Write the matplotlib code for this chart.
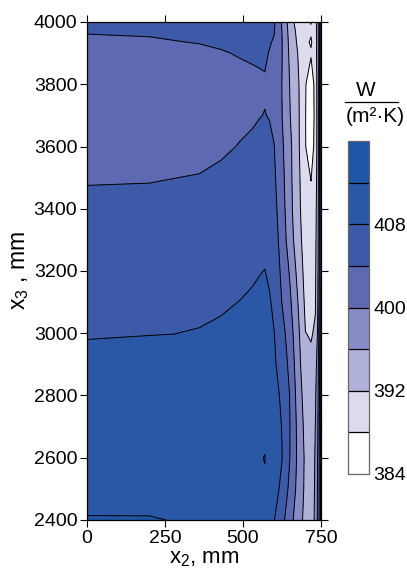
import numpy as np
import matplotlib
matplotlib.use("Agg")
import matplotlib.pyplot as plt

plt.rcParams['font.family'] = ['Liberation Sans', 'DejaVu Sans']
plt.rcParams['mathtext.fontset'] = 'custom'
plt.rcParams['mathtext.rm'] = 'Liberation Sans'
plt.rcParams['mathtext.it'] = 'Liberation Sans:italic'

# grid nodes, mm
x2_mm = [0, 200, 280, 360, 430, 490, 530, 555, 570, 585, 600, 625, 650, 675, 700,
         718, 732, 740, 745, 750]
x3_mm = [2400, 2500, 2600, 2700, 2800, 2900, 3000, 3100, 3200, 3300,
         3400, 3500, 3600, 3700, 3800, 3900, 3935, 3970, 4000]

# heat transfer coefficient, W/(m2 K), one list per x2 column (x3 from bottom to top)
alpha_x0 = [412.1, 411.4, 410.7, 410.0, 409.3, 408.6, 407.85, 407.0, 406.2, 405.4,
            404.6, 403.8, 403.0, 402.4, 402.5, 403.3, 403.7, 404.1, 404.4]
alpha_x200 = [412.1, 411.35, 410.7, 410.05, 409.35, 408.65, 407.95, 407.1, 406.3, 405.5,
              404.7, 403.85, 403.1, 402.5, 402.7, 403.45, 403.8, 404.2, 404.5]
alpha_x280 = [411.95, 411.4, 410.8, 410.15, 409.45, 408.75, 407.98, 407.2, 406.4, 405.6,
              404.8, 403.98, 403.2, 402.65, 402.8, 403.6, 403.95, 404.25, 404.55]
alpha_x360 = [411.8, 411.5, 410.9, 410.25, 409.55, 408.85, 408.15, 407.3, 406.5, 405.7,
              404.9, 404.1, 403.3, 402.8, 402.9, 403.7, 404.05, 404.3, 404.6]
alpha_x430 = [411.7, 411.55, 411.15, 410.55, 409.85, 409.15, 408.45, 407.65, 406.85, 406.05,
              405.25, 404.45, 403.65, 403.1, 403.2, 403.9, 404.2, 404.5, 404.8]
alpha_x490 = [411.6, 411.6, 411.4, 410.9, 410.2, 409.5, 408.8, 408.05, 407.2, 406.4,
              405.6, 404.8, 404.1, 403.5, 403.5, 404.1, 404.4, 404.7, 405.0]
alpha_x530 = [411.55, 411.7, 411.7, 411.25, 410.6, 409.9, 409.2, 408.4, 407.6, 406.8,
              406.0, 405.2, 404.4, 403.7, 403.65, 404.2, 404.45, 404.75, 405.0]
alpha_x555 = [411.5, 411.75, 411.9, 411.45, 410.85, 410.15, 409.45, 408.7, 407.9, 407.05,
              406.2, 405.4, 404.6, 403.95, 403.75, 404.25, 404.45, 404.75, 405.0]
alpha_x570 = [411.5, 411.8, 412.05, 411.6, 411.0, 410.3, 409.6, 408.8, 408.05, 407.2,
              406.3, 405.5, 404.7, 404.05, 403.8, 404.3, 404.5, 404.8, 405.0]
alpha_x585 = [409.5, 410.8, 411.2, 410.9, 410.4, 409.7, 409.0, 408.3, 407.5, 406.7,
              405.9, 405.2, 404.5, 403.9, 403.55, 403.9, 404.15, 404.45, 404.8]
alpha_x600 = [408.1, 409.3, 409.6, 409.4, 409.0, 408.5, 408.05, 407.3, 406.6, 405.9,
              405.2, 404.6, 404.05, 403.4, 403.1, 403.5, 403.8, 404.1, 404.5]
alpha_x625 = [405.2, 407.2, 408.1, 407.9, 407.5, 406.4, 405.4, 403.9, 403.1, 402.3,
              401.7, 401.2, 400.7, 400.05, 399.95, 400.1, 400.1, 399.95, 399.6]
alpha_x650 = [401.5, 403.0, 404.05, 404.1, 403.9, 403.0, 402.0, 400.8, 399.6, 398.0,
              397.3, 397.0, 396.9, 396.2, 395.9, 395.3, 395.0, 394.6, 394.2]
alpha_x675 = [398.1, 399.0, 399.4, 399.2, 398.6, 397.9, 397.2, 396.2, 395.0, 393.8,
              393.4, 393.3, 393.1, 393.0, 392.8, 392.05, 391.5, 391.0, 390.0]
alpha_x700 = [394.8, 395.2, 395.3, 394.8, 394.05, 392.9, 392.05, 391.2, 390.6, 390.2,
              389.6, 389.0, 388.1, 388.1, 388.2, 388.6, 388.6, 388.7, 388.5]
alpha_x718 = [394.0, 393.8, 393.5, 393.3, 393.0, 392.5, 391.8, 390.8, 390.0, 389.4,
              388.8, 387.9, 386.5, 385.9, 386.2, 388.3, 387.7, 388.3, 387.9]
alpha_x732 = [396.8, 396.6, 396.4, 396.05, 395.4, 394.2, 392.3, 391.8, 391.4, 391.0,
              390.6, 389.8, 389.0, 388.9, 389.0, 389.8, 389.5, 389.8, 390.0]
alpha_x740 = [401.0, 400.8, 400.5, 399.9, 399.4, 398.5, 396.8, 396.1, 395.5, 395.0,
              394.7, 394.4, 394.2, 394.2, 394.3, 394.5, 394.6, 394.8, 395.0]
alpha_x745 = [405.0, 404.8, 404.6, 404.3, 403.9, 403.3, 402.0, 401.3, 400.8, 400.4,
              400.2, 400.05, 399.8, 399.8, 399.9, 400.05, 400.1, 400.2, 400.5]
alpha_x750 = [409.6, 409.5, 409.4, 409.3, 409.2, 409.0, 408.6, 408.2, 407.8, 407.7,
              407.6, 407.6, 407.6, 407.6, 407.6, 407.6, 407.6, 407.6, 407.6]

levels = [384, 388, 392, 396, 400, 404, 408, 412, 416]
band_colors = ['#ffffff', '#dcdcee', '#b0b1d8', '#888cc6', '#5d69b0',
               '#3c5aa8', '#2a58a6', '#1f56a6']
cbar_ticks = [384, 392, 400, 408]
x_ticks = [0, 250, 500, 750]
y_ticks = [2400, 2600, 2800, 3000, 3200, 3400, 3600, 3800, 4000]

columns = [alpha_x0, alpha_x200, alpha_x280, alpha_x360, alpha_x430, alpha_x490,
           alpha_x530, alpha_x555, alpha_x570, alpha_x585, alpha_x600, alpha_x625,
           alpha_x650, alpha_x675, alpha_x700, alpha_x718, alpha_x732, alpha_x740,
           alpha_x745, alpha_x750]
Z = np.array(columns).T
X, Y = np.meshgrid(x2_mm, x3_mm)

fig = plt.figure(figsize=(4.07, 5.72), dpi=100)
ax = fig.add_axes([87 / 407, 1 - 520 / 572, 234 / 407, 498 / 572])

cf = ax.contourf(X, Y, Z, levels=levels, colors=band_colors)
ax.contour(X, Y, Z, levels=levels, colors='black', linewidths=0.7)

ax.set_xlim(0, 750)
ax.set_ylim(2400, 4000)
ax.set_xticks(x_ticks)
ax.set_yticks(y_ticks)
ax.tick_params(direction='out', length=5, width=0.8, labelsize=14, pad=2,
               top=True, right=True)
for sp in ax.spines.values():
    sp.set_linewidth(0.9)

ax.set_xlabel('x$_\\mathregular{2}$, mm', fontsize=16, labelpad=1)
ax.set_ylabel('x$_\\mathregular{3}$ , mm', fontsize=16.5, labelpad=2)

# colour bar
cax = fig.add_axes([348 / 407, 1 - 474 / 572, 21 / 407, 333 / 572])
cb = fig.colorbar(cf, cax=cax, drawedges=True)
cb.set_ticks(cbar_ticks)
cb.ax.tick_params(length=0, labelsize=14, pad=3)
cb.outline.set_edgecolor('#666666')
cb.outline.set_linewidth(0.9)
cb.dividers.set_color('black')
cb.dividers.set_linewidth(0.9)

# unit label as a fraction
fig.text(366 / 407, 1 - 91 / 572, 'W', fontsize=15, ha='center', va='center')
fig.add_artist(plt.Line2D([345 / 407, 398 / 407], [1 - 102 / 572, 1 - 102 / 572],
                          color='black', linewidth=0.9))
fig.text(375 / 407, 1 - 116 / 572, '(m\u00b2\u00b7K)', fontsize=15, ha='center', va='center')

fig.savefig('out.png', dpi=100)
